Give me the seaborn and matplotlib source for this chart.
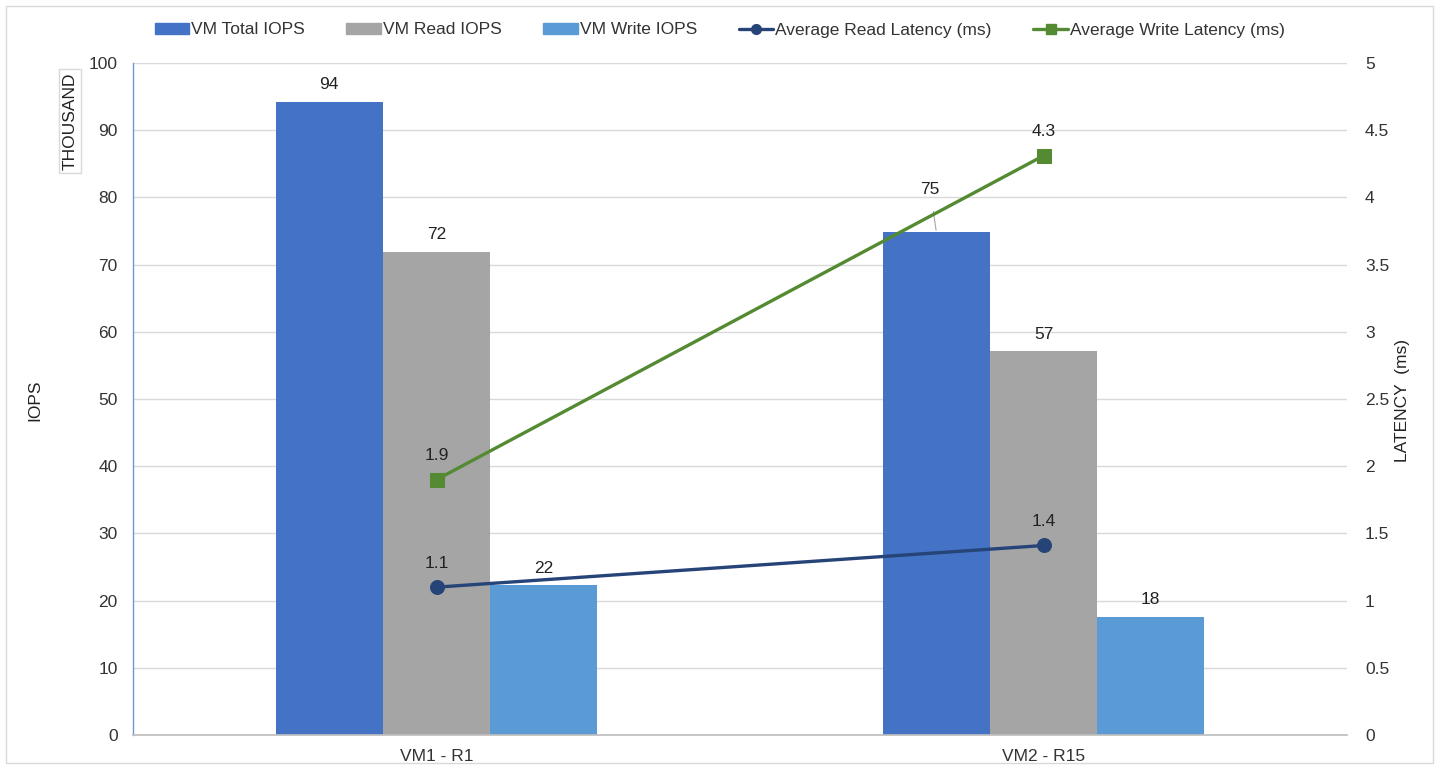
import numpy as np
import pandas as pd
import matplotlib.pyplot as plt
import matplotlib.patches as mpatches
from matplotlib.lines import Line2D
import seaborn as sns

# data
vms = ['VM1 - R1', 'VM2 - R15']
total_iops = [94.2, 74.9]
read_iops = [71.9, 57.1]
write_iops = [22.3, 17.6]
read_latency = [1.1, 1.41]
write_latency = [1.9, 4.31]

bar_names = ['VM Total IOPS', 'VM Read IOPS', 'VM Write IOPS']
bar_colors = ['#4472C4', '#A5A5A5', '#5B9BD5']
read_color = '#264478'
write_color = '#548A32'

bars = pd.DataFrame({
    'vm': vms * 3,
    'metric': [n for n in bar_names for _ in vms],
    'iops': total_iops + read_iops + write_iops,
})

sns.set_theme(style='white')
plt.rcParams['font.family'] = ['Liberation Sans', 'DejaVu Sans']
fs = 12.5

fig = plt.figure(figsize=(14.39, 7.69), dpi=100)
ax = fig.add_axes([133 / 1439, 1 - 735 / 769, (1347 - 133) / 1439, (735 - 63) / 769])

sns.barplot(data=bars, x='vm', y='iops', hue='metric', palette=bar_colors,
            width=0.53, saturation=1, linewidth=0, ax=ax, legend=False, zorder=2)
ax.set_xlim(-0.5, 1.5)
ax.set_ylim(0, 100)
ax.set_yticks(range(0, 101, 10))
ax.yaxis.grid(True, color='#D9D9D9', linewidth=1)
ax.set_axisbelow(True)
ax.set_xlabel('')
ax.set_ylabel('')
for s in ['top', 'right']:
    ax.spines[s].set_visible(False)
ax.spines['left'].set_color('#6F97D6')
ax.spines['left'].set_linewidth(1)
ax.spines['bottom'].set_color('#BFBFBF')
ax.tick_params(axis='y', length=0, pad=11, labelsize=fs, labelcolor='#333333')
ax.tick_params(axis='x', which='major', length=0, pad=10, labelsize=fs, labelcolor='#333333')
ax.set_xticks([-0.5, 0.5, 1.5], minor=True)
ax.tick_params(axis='x', which='minor', length=6, color='#BFBFBF', width=1)

# bar value labels
for cont in ax.containers:
    for rect in cont:
        h = rect.get_height()
        cx = rect.get_x() + rect.get_width() / 2
        if abs(h - 74.9) < 0.01:
            ax.annotate(f'{h:.0f}', xy=(cx, h), xytext=(-6, 42), textcoords='offset pixels',
                        ha='center', va='center', fontsize=fs, color='#222222',
                        arrowprops=dict(arrowstyle='-', color='#A6A6A6', lw=0.8,
                                        shrinkA=8, shrinkB=1))
        else:
            ax.annotate(f'{h:.0f}', xy=(cx, h), xytext=(0, 17), textcoords='offset pixels',
                        ha='center', va='center', fontsize=fs, color='#222222')

# latency lines on secondary axis
ax2 = ax.twinx()
pos = np.arange(len(vms))
sns.lineplot(x=pos, y=read_latency, color=read_color, marker='o', markersize=10,
             markeredgecolor=read_color, linewidth=2.4, ax=ax2, zorder=3)
sns.lineplot(x=pos, y=write_latency, color=write_color, marker='s', markersize=10,
             markeredgecolor=write_color, linewidth=2.4, ax=ax2, zorder=3)
for x, v in zip(pos, read_latency):
    ax2.annotate(f'{v:.1f}', xy=(x, v), xytext=(0, 24), textcoords='offset pixels',
                 ha='center', va='center', fontsize=fs, color='#222222')
for x, v in zip(pos, write_latency):
    ax2.annotate(f'{v:.1f}', xy=(x, v), xytext=(0, 24), textcoords='offset pixels',
                 ha='center', va='center', fontsize=fs, color='#222222')
ax2.set_xlim(-0.5, 1.5)
ax2.set_ylim(0, 5)
ax2.set_yticks(np.arange(0, 5.01, 0.5))
ax2.set_yticklabels(['0', '0.5', '1', '1.5', '2', '2.5', '3', '3.5', '4', '4.5', '5'])
ax2.tick_params(axis='y', length=0, pad=13, labelsize=fs, labelcolor='#333333')
ax2.grid(False)
for s in ax2.spines.values():
    s.set_visible(False)

# axis titles
fig.text(35 / 1439, 1 - 400 / 769, 'IOPS', rotation=90, ha='center', va='center',
         fontsize=fs, color='#222222')
fig.text(1403 / 1439, 1 - 400 / 769, 'LATENCY  (ms)', rotation=90, ha='center', va='center',
         fontsize=fs, color='#222222')
fig.text(70 / 1439, 1 - 121 / 769, 'THOUSAND', rotation=90, ha='center', va='center',
         fontsize=fs, color='#222222',
         bbox=dict(boxstyle='square,pad=0.2', facecolor='white', edgecolor='#D9D9D9', lw=1))

# legend
handles = [mpatches.Patch(color=c) for c in bar_colors]
handles += [Line2D([], [], color=read_color, marker='o', markersize=7, linewidth=2.4),
            Line2D([], [], color=write_color, marker='s', markersize=7, linewidth=2.4)]
labels = bar_names + ['Average Read Latency (ms)', 'Average Write Latency (ms)']
fig.legend(handles, labels, loc='center', bbox_to_anchor=(0.5, 1 - 30 / 769), ncol=5,
           frameon=False, fontsize=fs, handlelength=2.0, handleheight=0.6,
           handletextpad=0.1, columnspacing=2.4, labelcolor='#333333')

# outer chart border
fig.patches.append(mpatches.Rectangle((6 / 1439, 6 / 769), 1 - 12 / 1439, 1 - 12 / 769,
                                      transform=fig.transFigure, fill=False,
                                      edgecolor='#D9D9D9', linewidth=1))

fig.savefig('out.png', dpi=100)
